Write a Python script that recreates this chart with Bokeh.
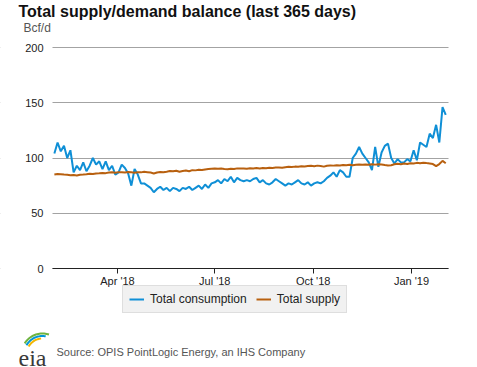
import numpy as np
import pandas as pd
from bokeh.plotting import figure
from bokeh.models import (Range1d, Label, Legend, LegendItem, FixedTicker,
                          DatetimeTickFormatter, PolyAnnotation, BoxAnnotation)
from bokeh.embed import file_html
from bokeh.resources import INLINE

# ---------------- data (Bcf/d, every 3 days from 2018-02-01) ----------------
start_date = "2018-02-01"
step = "3D"

consumption = [
    104, 114, 106, 111, 100, 107, 87, 93, 89, 96,
    88, 93, 100, 94, 97, 90, 97, 89, 93, 85,
    87, 94, 91, 86, 75, 90, 85, 77, 77, 75,
    73, 69, 72, 74, 71, 73, 70, 73, 72, 70,
    73, 72, 74, 71, 73, 75, 72, 76, 73, 77,
    78, 80, 77, 81, 79, 83, 78, 82, 80, 79,
    80, 79, 81, 82, 78, 80, 77, 76, 78, 81,
    79, 77, 75, 77, 76, 78, 80, 77, 76, 78,
    75, 77, 78, 77, 79, 82, 84, 87, 83, 89,
    87, 83, 83, 100, 104, 110, 104, 100, 96, 89,
    110, 92, 105, 111, 113, 100, 95, 99, 96, 96,
    99, 97, 107, 98, 114, 112, 110, 122, 118, 130,
    114, 146, 139,
]

supply = [
    85, 85.5, 85.3, 85, 84.8, 84.3, 84.6, 84.2, 84.8, 85,
    85.3, 85.8, 85.5, 86, 86.2, 86.5, 86.3, 86.8, 87, 86.6,
    87.2, 87, 86.8, 87.3, 87, 86.7, 87.2, 87, 87.5, 87.2,
    86.8, 86, 86.9, 87.3, 87.1, 87.6, 88.2, 88, 88.5, 87.6,
    88.2, 88.6, 88, 89, 88.8, 89.3, 89.1, 89.6, 90, 90.3,
    90.6, 90.2, 90.5, 90, 89.8, 90.3, 90, 90.6, 90.4, 90.6,
    90.3, 90.7, 90.5, 90.9, 90.6, 91, 90.7, 91.2, 91, 91.3,
    91.5, 91.2, 91.7, 92, 91.8, 92.2, 92, 92.5, 92.3, 92.7,
    93, 92.6, 93.1, 92.8, 92.2, 93, 93.3, 93.1, 93.5, 93.2,
    93.6, 93.4, 93.8, 93.5, 93.9, 94.1, 93.8, 94.2, 93.9, 94.3,
    94, 94.4, 94.1, 93.6, 93.2, 93.5, 94.4, 94.8, 94.3, 95,
    94.6, 95.2, 95, 95.6, 95.3, 95.8, 95.4, 95.1, 94.5, 92.6,
    94.5, 97.4, 95.3,
]

series_names = ["Total consumption", "Total supply"]
tick_dates = ["2018-04-01", "2018-07-01", "2018-10-01", "2019-01-01"]
y_ticks = [0, 50, 100, 150, 200]
title_text = "Total supply/demand balance (last 365 days)"
unit_text = "Bcf/d"
source_text = "Source: OPIS PointLogic Energy, an IHS Company"
logo_text = "eia"

dates = pd.date_range(start_date, periods=len(consumption), freq=step)

BLUE = "#0f8fd6"
BROWN = "#b8600f"
FONT = "Liberation Sans"


def ms(ts):
    return pd.Timestamp(ts).value / 1e6


# ---------------- geometry ----------------
W, H = 477, 367
PL, PR, PT, PB = 52, 448, 47, 268          # plot area in canvas pixels
x_left = ms("2018-01-30 06:00")            # date at plot-area left
x_right = ms("2019-02-04 14:00")           # date at plot-area right
y_lo, y_hi = 0, 200
ms_per_px = (x_right - x_left) / (PR - PL)
u_per_px = (y_hi - y_lo) / (PB - PT)
xr = Range1d(x_left - ms_per_px * PL, x_right + ms_per_px * (W - PR))
yr = Range1d(y_lo - u_per_px * (H - PB), y_hi + u_per_px * PT)

# the frame covers the whole canvas; axes sit at fixed locations inside it
p = figure(width=W, height=H, x_axis_type="datetime",
           output_backend="svg", toolbar_location=None,
           x_range=xr, y_range=yr,
           min_border=0, min_border_left=0, min_border_right=0,
           min_border_top=0, min_border_bottom=0)
p.outline_line_color = None
p.background_fill_color = "white"
p.border_fill_color = "white"

p.xgrid.grid_line_color = None
p.ygrid.grid_line_color = "#a3a3a3"
p.ygrid.grid_line_width = 1

# white masks so the grid lines only span the plot area
for l, r in [(0, PL), (PR, W)]:
    p.add_layout(BoxAnnotation(left=l, right=r, bottom=0, top=H,
                               left_units="screen", right_units="screen",
                               bottom_units="screen", top_units="screen",
                               fill_color="white", fill_alpha=1, line_color=None,
                               level="underlay"))

r1 = p.line(dates, consumption, line_color=BLUE, line_width=2)
r2 = p.line(dates, supply, line_color=BROWN, line_width=2)

p.yaxis.fixed_location = x_left
p.yaxis.ticker = FixedTicker(ticks=y_ticks)
p.yaxis.axis_line_color = None
p.yaxis.major_tick_line_color = None
p.yaxis.minor_tick_line_color = None
p.yaxis.major_tick_out = 0
p.yaxis.major_tick_in = 0
p.yaxis.major_label_standoff = 9
p.yaxis.major_label_text_font = FONT
p.yaxis.major_label_text_font_size = "11px"
p.yaxis.major_label_text_color = "#222222"

p.xaxis.fixed_location = 0
p.xaxis.bounds = (x_left, x_right)
p.xaxis.ticker = FixedTicker(ticks=[ms(d) for d in tick_dates])
p.xaxis.formatter = DatetimeTickFormatter(days="%b '%y", months="%b '%y", years="%b '%y",
                                          context=None)
p.xaxis.axis_line_color = "#222222"
p.xaxis.major_tick_line_color = "#222222"
p.xaxis.minor_tick_line_color = None
p.xaxis.major_tick_out = 5
p.xaxis.major_tick_in = 0
p.xaxis.major_label_standoff = 1
p.xaxis.major_label_text_font = FONT
p.xaxis.major_label_text_font_size = "11px"
p.xaxis.major_label_text_color = "#222222"

# logo swooshes (decoration), drawn before the texts
cx, cy = 42, H - 354
for r, a0, a1, col in [(21, 72, 148, "#6fb43f"), (18.5, 80, 150, "#0096d7"),
                       (16, 95, 150, "#f2b705")]:
    t = np.radians(np.linspace(a0, a1, 24))
    xs = np.concatenate([cx + (r + 1) * np.cos(t), cx + (r - 1) * np.cos(t[::-1])])
    ys = np.concatenate([cy + (r + 1) * np.sin(t), cy + (r - 1) * np.sin(t[::-1])])
    p.add_layout(PolyAnnotation(xs=list(xs), ys=list(ys), xs_units="screen", ys_units="screen",
                                fill_color=col, fill_alpha=1, line_color=None))

# texts (screen units, from the canvas bottom-left)
p.add_layout(Label(x=18, y=H - 19, x_units="screen", y_units="screen", text=title_text,
                   text_font=FONT, text_font_size="16px", text_font_style="bold",
                   text_color="#111111"))
p.add_layout(Label(x=23, y=H - 34, x_units="screen", y_units="screen", text=unit_text,
                   text_font=FONT, text_font_size="12px", text_color="#555555"))
p.add_layout(Label(x=56, y=H - 351.5, x_units="screen", y_units="screen", text=source_text,
                   text_font=FONT, text_font_size="11px", text_color="#555555",
                   text_baseline="middle"))
p.add_layout(Label(x=18, y=H - 357, x_units="screen", y_units="screen", text=logo_text,
                   text_font="Liberation Serif", text_font_size="24px",
                   text_color="#3a3a3a", text_baseline="alphabetic"))

legend = Legend(items=[LegendItem(label=series_names[0], renderers=[r1]),
                       LegendItem(label=series_names[1], renderers=[r2])],
                orientation="horizontal", location=(122, H - 313))
legend.label_text_font = FONT
legend.label_text_font_size = "12px"
legend.label_text_color = "#222222"
legend.glyph_width = 15
legend.glyph_height = 12
legend.label_height = 12
legend.label_standoff = 6
legend.spacing = 9
legend.padding = 6
legend.margin = 0
legend.border_line_color = "#cccccc"
legend.background_fill_color = "#f1f1f1"
legend.background_fill_alpha = 1
p.add_layout(legend)

open("out.html", "w").write(file_html(p, INLINE))
